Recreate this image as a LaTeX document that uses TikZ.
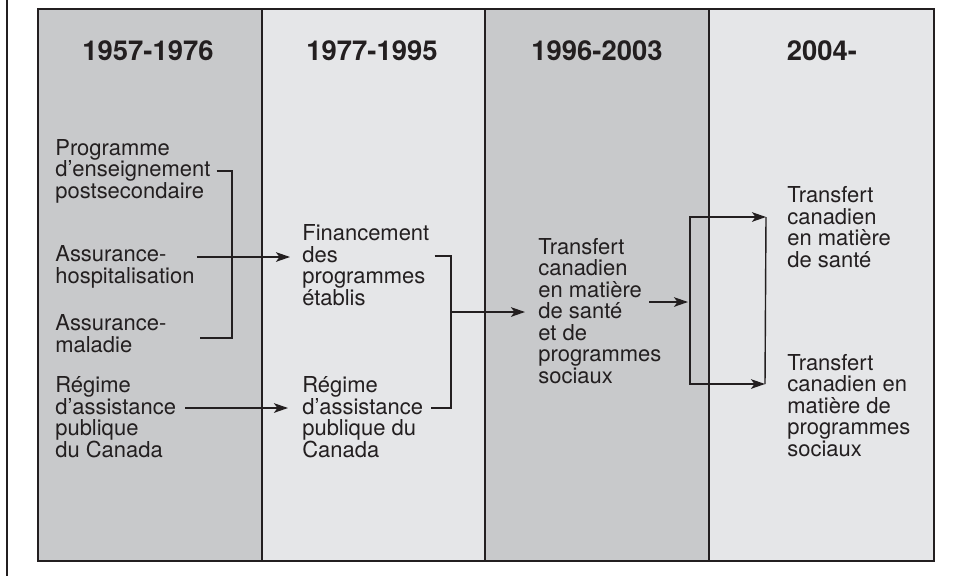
\documentclass[tikz,border=0pt]{standalone}
\usepackage{fontspec}
\setmainfont{TeX Gyre Heros}
\usetikzlibrary{arrows.meta,calc}
\definecolor{darkcol}{RGB}{200,201,203}
\definecolor{lightcol}{RGB}{229,230,232}
\definecolor{ink}{RGB}{35,31,32}
\tikzset{
  period/.style={anchor=base,text=ink,font=\bfseries\fontsize{15.6}{18}\selectfont},
  item/.style={anchor=base west,align=left,inner sep=0pt,text=ink,font=\fontsize{12.5}{12.2}\selectfont},
  link/.style={draw=ink,line width=0.8pt},
  arrowlink/.style={link,-{Stealth[length=8pt,width=5.5pt,inset=2pt]}}
}
\begin{document}
\begin{tikzpicture}[x=0.02cm,y=-0.02cm]
  \useasboundingbox (0,0) rectangle (963,576);
  \fill[darkcol] (38,9) rectangle (262,561);
  \fill[lightcol] (262,9) rectangle (485,561);
  \fill[darkcol] (485,9) rectangle (709,561);
  \fill[lightcol] (709,9) rectangle (934,561);
  \draw[ink,line width=0.8pt] (262,9) -- (262,561) (485,9) -- (485,561) (709,9) -- (709,561);
  \draw[ink,line width=1.1pt] (38,9) rectangle (934,561);
  \draw[ink,line width=0.9pt] (7,0) -- (7,576);

  \node[period] (p1) at (148,60) {1957-1976};
  \node[period] (p2) at (372,60) {1977-1995};
  \node[period] (p3) at (597,60) {1996-2003};
  \node[period] (p4) at (822,60) {2004-};

  \node[item] (prog) at (55,198) {Programme\\d’enseignement\\postsecondaire};
  \node[item] (hosp) at (55,283) {Assurance-\\hospitalisation};
  \node[item] (mal) at (55,352) {Assurance-\\maladie};
  \node[item] (rap1) at (55,457) {Régime\\d’assistance\\publique\\du Canada};
  \node[item] (fin) at (302,305) {Financement\\des\\programmes\\établis};
  \node[item] (rap2) at (302,457) {Régime\\d’assistance\\publique du\\Canada};
  \node[item] (tcsps) at (538,383) {Transfert\\canadien\\en matière\\de santé\\et de\\programmes\\sociaux};
  \node[item] (tcs) at (787,267) {Transfert\\canadien\\en matière\\de santé};
  \node[item] (tcps) at (787,456) {Transfert\\canadien en\\matière de\\programmes\\sociaux};

  \coordinate (j1) at (232,338);
  \coordinate (j2) at (451,312);
  \coordinate (j3) at (690,302);

  \draw[link] ([shift={(6,0)}]prog.east) -| (j1) -- ($(mal.base east)+(33,-14)$);
  \draw[arrowlink] ([shift={(2,-26)}]hosp.base east) -- ($(fin.west |- hosp.base east)+(-12,-26)$);
  \draw[arrowlink] ([shift={(9,-49)}]rap1.base east) -- ($(rap2.west |- rap1.base east)+(-14,-49)$);
  \draw[link] ([shift={(5,-49)}]fin.base east) -| (j2) |- ($(rap2.base east)+(8,-49)$);
  \draw[arrowlink] (j2) -- ($(tcsps.west |- j2)+(-13,0)$);
  \draw[arrowlink] ($(tcsps.base west)+(111,-81)$) -- ($(j3)+(-2,0)$);
  \draw[link] ($(tcs.base west)+(-21,-50)$ -| j3) -- ($(tcps.base west)+(-22,-72)$ -| j3);
  \draw[arrowlink] (j3) |- ($(tcs.base west)+(-21,-50)$);
  \draw[arrowlink] (j3) |- ($(tcps.base west)+(-22,-72)$);
\end{tikzpicture}
\end{document}
